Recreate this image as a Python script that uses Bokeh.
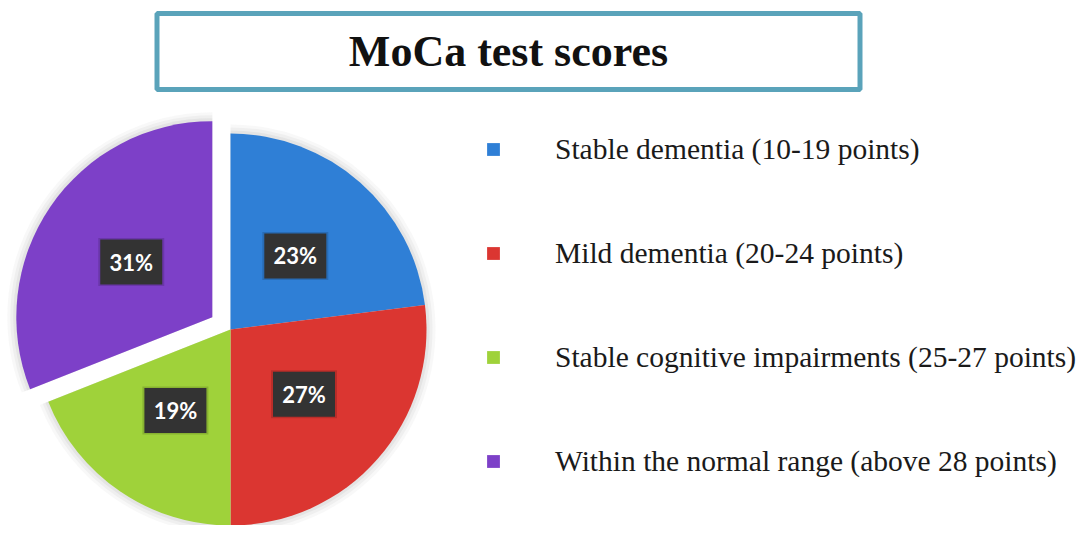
import numpy as np
from bokeh.plotting import figure
from bokeh.models import Range1d, ColumnDataSource, Legend, LegendItem
from bokeh.embed import file_html
from bokeh.resources import INLINE
from bokeh.core.properties import value

# ---- data ----
categories = [
    "Stable dementia (10-19 points)",
    "Mild dementia (20-24 points)",
    "Stable cognitive impairments (25-27 points)",
    "Within the normal range (above 28 points)",
]
shares = [23, 27, 19, 31]
colors = ["#2f7fd6", "#db3631", "#9fd23a", "#7d40c8"]
explode = [0, 0, 0, 22]
title_text = "MoCa test scores"

# ---- figure (1 data unit = 1 px; y measured upward from page bottom) ----
W, H = 1083, 525
p = figure(width=W, height=H, x_range=Range1d(0, W), y_range=Range1d(533 - H, 533),
           output_backend="svg", toolbar_location=None, min_border=0)
p.axis.visible = False
p.grid.visible = False
p.outline_line_color = None
p.background_fill_color = "white"
p.border_fill_color = "white"

cx, cy, R = 230, 204, 196

vals = np.array(shares, dtype=float)
frac = vals / vals.sum()
cum = np.concatenate([[0], np.cumsum(frac)])
start = np.pi / 2 - 2 * np.pi * cum[:-1]
end = np.pi / 2 - 2 * np.pi * cum[1:]
mid = (start + end) / 2
ex = np.array(explode, dtype=float)
xs = cx + ex * np.cos(mid)
ys = cy + ex * np.sin(mid)
lx = xs + 0.5 * R * np.cos(mid)
ly = ys + 0.5 * R * np.sin(mid)
pct = [f"{v:.0f}%" for v in vals]

src = ColumnDataSource(dict(x=xs, y=ys, start=start, end=end, color=colors,
                            lx=lx, ly=ly, pct=pct, cat=categories))

# soft shadow
for extra, a in [(9, 0.05), (6, 0.07), (3, 0.09)]:
    p.wedge(x="x", y="y", radius=R + extra, start_angle="start", end_angle="end",
            direction="clock", fill_color="#7a7a7a", fill_alpha=a, line_color=None, source=src)

wedges = p.wedge(x="x", y="y", radius=R, start_angle="start", end_angle="end",
                 direction="clock", fill_color="color", line_color=None, source=src)

# data labels
p.rect(x="lx", y="ly", width=66, height=48, fill_color="#000000", fill_alpha=0.15,
       line_color=None, source=src)
p.rect(x="lx", y="ly", width=62, height=45, fill_color="#333333", line_color=None, source=src)
p.text(x="lx", y="ly", text="pct", text_font=value("Lato"), text_font_style="bold",
       text_font_size="22px", text_color="white", text_align="center",
       text_baseline="middle", source=src)

# title box
p.rect(x=[508], y=[482], width=703, height=76, fill_color="white",
       line_color="#5aa3ba", line_width=5)
p.text(x=[508], y=[482], text=[title_text], text_font=value("Liberation Serif"),
       text_font_style="bold", text_font_size="44px", text_color="#111111",
       text_align="center", text_baseline="middle")

# legend
legend = Legend(
    items=[LegendItem(label=categories[i], renderers=[wedges], index=i) for i in range(4)],
    location=(485, 46), orientation="vertical",
    glyph_width=16, glyph_height=16, label_standoff=54, label_height=36,
    spacing=68, padding=0, margin=0,
    label_text_font="Liberation Serif", label_text_font_size="29.5px",
    label_text_color="#1a1a1a",
    border_line_color=None, background_fill_alpha=0,
)
p.add_layout(legend)

open("out.html", "w").write(file_html(p, INLINE))
